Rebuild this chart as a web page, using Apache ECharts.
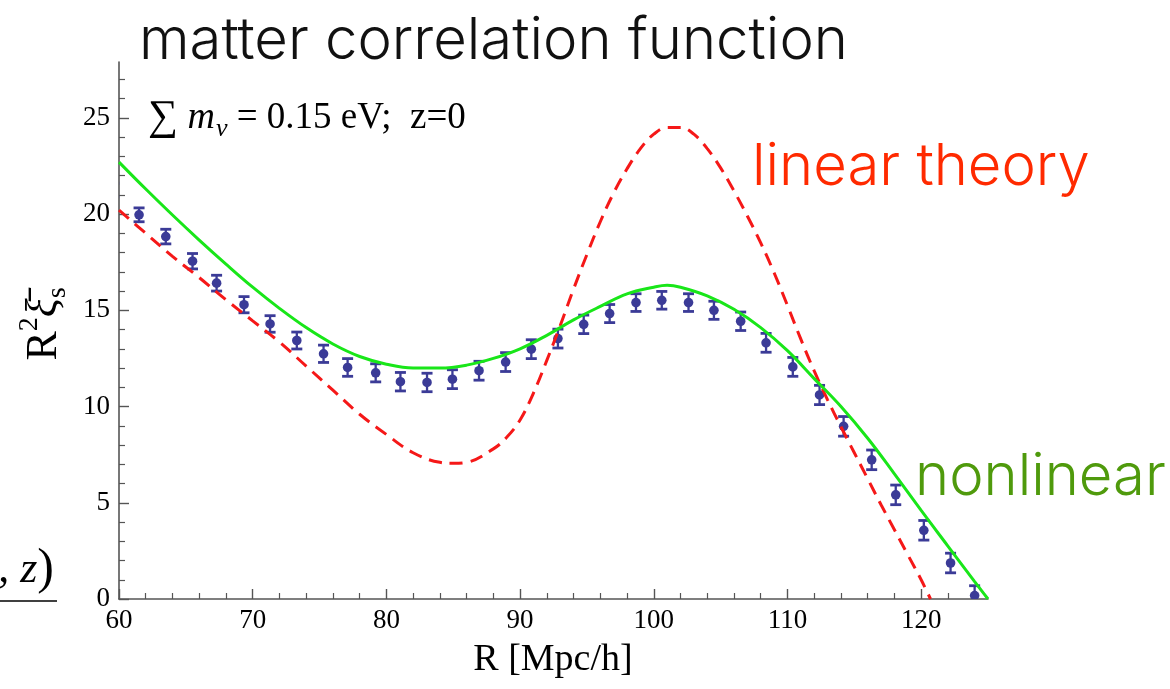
<!DOCTYPE html>
<html>
<head>
<meta charset="utf-8">
<script src="https://cdn.jsdelivr.net/npm/echarts@6/dist/echarts.min.js"></script>
<style>
  html, body { margin: 0; padding: 0; background: #fff; }
  #main { width: 1170px; height: 689px; }
</style>
</head>
<body>
<div id="main"></div>
<script>
// simulation points: R, R^2 xi, error
var simR = [59.6, 61.5, 63.5, 65.5, 67.3, 69.35, 71.3, 73.3, 75.3, 77.1, 79.2, 81.05, 83.04, 84.94, 86.93, 88.92,
  90.84, 92.83, 94.76, 96.7, 98.67, 100.6, 102.6, 104.5, 106.5, 108.4, 110.4, 112.4, 114.2, 116.3, 118.1, 120.2, 122.2, 124.0]
var simXi = [21.25, 19.96, 18.83, 17.55, 16.41, 15.29, 14.29, 13.43, 12.74, 12.03, 11.75, 11.29, 11.25, 11.42, 11.86, 12.31,
  12.98, 13.53, 14.27, 14.83, 15.4, 15.52, 15.4, 15.0, 14.43, 13.31, 12.06, 10.6, 8.97, 7.23, 5.41, 3.57, 1.87, 0.18]
var simErr = [0.35, 0.36, 0.38, 0.4, 0.41, 0.42, 0.43, 0.44, 0.45, 0.46, 0.47, 0.48, 0.48, 0.49, 0.49, 0.49,
  0.49, 0.49, 0.48, 0.47, 0.46, 0.46, 0.46, 0.47, 0.48, 0.49, 0.49, 0.5, 0.51, 0.51, 0.51, 0.51, 0.51, 0.51]

// linear theory (red dashed)
var linearR = [60, 62, 64, 66, 68, 70, 72, 74, 76, 78, 80, 82, 84, 85, 86, 88, 89, 90, 91, 92, 93, 94, 95, 96, 97, 98, 99,
  100, 101, 102, 103, 104, 105, 106, 107, 108, 109, 110, 111, 112, 113, 114, 115, 116, 117, 118, 119, 120, 120.7]
var linearXi = [20.2, 19.0, 17.8, 16.7, 15.55, 14.45, 13.35, 12.1, 10.85, 9.6, 8.55, 7.6, 7.1, 7.05, 7.1, 7.8, 8.4, 9.3, 10.7,
  12.4, 14.2, 16.1, 17.9, 19.6, 21.1, 22.35, 23.4, 24.15, 24.5, 24.5, 24.15, 23.4, 22.4, 21.2, 19.9, 18.5, 16.95, 15.25,
  13.5, 11.85, 10.35, 8.95, 7.6, 6.25, 4.9, 3.6, 2.3, 1.0, 0]

// nonlinear (green)
var nonlinearR = [60, 62, 64, 66, 68, 70, 72, 74, 76, 78, 80, 82, 84, 86, 88, 90, 92, 94, 96, 98, 100, 101, 102, 104, 106,
  108, 110, 112, 114, 116, 118, 120, 122, 124, 125]
var nonlinearXi = [22.7, 21.3, 19.95, 18.65, 17.4, 16.2, 15.1, 14.1, 13.25, 12.6, 12.2, 12.0, 12.0, 12.15, 12.5, 13.0, 13.7,
  14.5, 15.2, 15.85, 16.2, 16.3, 16.2, 15.75, 15.05, 14.1, 12.9, 11.45, 10.0, 8.35, 6.5, 4.6, 2.75, 0.9, 0]

// ticks
var xMajorTicks = [60, 70, 80, 90, 100, 110, 120]
var xMinorTicks = [62, 64, 66, 68, 72, 74, 76, 78, 82, 84, 86, 88, 92, 94, 96, 98, 102, 104, 106, 108, 112, 114, 116, 118, 122, 124]
var yMajorTicks = [0, 5, 10, 15, 20, 25]
var yMinorTicks = [1, 2, 3, 4, 6, 7, 8, 9, 11, 12, 13, 14, 16, 17, 18, 19, 21, 22, 23, 24, 26, 27]

var pointColor = '#3b3b97'
var axisColor = '#555'
var serif = '"Liberation Serif", "DejaVu Serif", serif'
var sans = 'Inter, Roboto, "Helvetica Neue", sans-serif'

function pairs (xs, ys) {
  return xs.map(function (x, i) { return [x, ys[i]] })
}

var myChart = echarts.init(document.getElementById('main'))

var option = {
  animation: false,
  backgroundColor: '#fff',
  grid: { left: 119, right: 182, top: 62, bottom: 90 },
  xAxis: [
    {
      type: 'value', min: 60, max: 125, interval: 10, position: 'bottom',
      splitLine: { show: false },
      axisLine: { lineStyle: { color: axisColor, width: 1.6 } },
      axisTick: { inside: true, length: 10, customValues: xMajorTicks, lineStyle: { color: axisColor, width: 1.4 } },
      axisLabel: { customValues: xMajorTicks, margin: 8, color: '#000', fontFamily: serif, fontSize: 27 }
    },
    {
      type: 'value', min: 60, max: 125, interval: 10, position: 'bottom', offset: 0,
      splitLine: { show: false },
      axisLine: { show: false },
      axisTick: { inside: true, length: 6, customValues: xMinorTicks, lineStyle: { color: axisColor, width: 1.2 } },
      axisLabel: { show: false }
    }
  ],
  yAxis: [
    {
      type: 'value', min: 0, max: 27.9, interval: 5, position: 'left',
      splitLine: { show: false },
      axisLine: { lineStyle: { color: axisColor, width: 1.6 } },
      axisTick: { inside: true, length: 10, customValues: yMajorTicks, lineStyle: { color: axisColor, width: 1.4 } },
      axisLabel: { customValues: yMajorTicks, margin: 9, color: '#000', fontFamily: serif, fontSize: 27 }
    },
    {
      type: 'value', min: 0, max: 27.9, interval: 5, position: 'left', offset: 0,
      splitLine: { show: false },
      axisLine: { show: false },
      axisTick: { inside: true, length: 6, customValues: yMinorTicks, lineStyle: { color: axisColor, width: 1.2 } },
      axisLabel: { show: false }
    }
  ],
  series: [
    {
      name: 'simulation',
      type: 'custom',
      clip: true,
      z: 2,
      data: simR.map(function (r, i) { return [r, simXi[i], simErr[i]] }),
      encode: { x: 0, y: 1 },
      renderItem: function (params, api) {
        var x = api.value(0)
        var y = api.value(1)
        var e = api.value(2)
        var c = api.coord([x, y])
        var hi = api.coord([x, y + e])
        var lo = api.coord([x, y - e])
        var cap = 5.5
        var st = { stroke: pointColor, lineWidth: 2.3 }
        var capSt = { stroke: pointColor, lineWidth: 2.8 }
        return {
          type: 'group',
          children: [
            { type: 'line', shape: { x1: c[0], y1: hi[1], x2: c[0], y2: lo[1] }, style: st },
            { type: 'line', shape: { x1: c[0] - cap, y1: hi[1], x2: c[0] + cap, y2: hi[1] }, style: capSt },
            { type: 'line', shape: { x1: c[0] - cap, y1: lo[1], x2: c[0] + cap, y2: lo[1] }, style: capSt },
            { type: 'circle', shape: { cx: c[0], cy: c[1], r: 4.8 }, style: { fill: pointColor } }
          ]
        }
      }
    },
    {
      name: 'linear theory',
      type: 'line',
      z: 3,
      smooth: 0.4,
      showSymbol: false,
      data: pairs(linearR, linearXi),
      lineStyle: { color: '#f51818', width: 3, type: [13, 8] }
    },
    {
      name: 'nonlinear',
      type: 'line',
      z: 4,
      smooth: 0.4,
      showSymbol: false,
      data: pairs(nonlinearR, nonlinearXi),
      lineStyle: { color: '#19e619', width: 3 }
    }
  ],
  graphic: [
    {
      type: 'text', x: 139, y: 42,
      style: { text: 'matter correlation function', fill: '#111', font: '300 58px ' + sans, verticalAlign: 'middle' }
    },
    {
      type: 'text', x: 752, y: 168,
      style: { text: 'linear theory', fill: '#ff2a00', font: '300 58px ' + sans, verticalAlign: 'middle' }
    },
    {
      type: 'text', x: 915, y: 478,
      style: { text: 'nonlinear', fill: '#4f9a0c', font: '300 58px ' + sans, verticalAlign: 'middle' }
    },
    {
      type: 'text', x: 148, y: 118,
      style: {
        text: '{s|∑}{m| m}{nu|ν}{t| = 0.15 eV;  z=0}',
        verticalAlign: 'middle',
        fill: '#000',
        rich: {
          s: { fontFamily: serif, fontSize: 42, lineHeight: 48, verticalAlign: 'middle' },
          m: { fontFamily: serif, fontStyle: 'italic', fontSize: 38, lineHeight: 48, verticalAlign: 'middle' },
          nu: { fontFamily: serif, fontStyle: 'italic', fontSize: 26, lineHeight: 48, verticalAlign: 'bottom', padding: [0, 0, 0, 1] },
          t: { fontFamily: serif, fontSize: 37, lineHeight: 48, verticalAlign: 'middle' }
        }
      }
    },
    {
      type: 'text', x: 553, y: 660,
      style: { text: 'R [Mpc/h]', fill: '#000', font: '38px ' + serif, align: 'center', verticalAlign: 'middle' }
    },
    {
      type: 'text', x: 44, y: 324, rotation: Math.PI / 2,
      style: {
        text: '{r|R}{sup|2}{xi|ξ̄}{sub|s}',
        align: 'center',
        verticalAlign: 'middle',
        fill: '#000',
        rich: {
          r: { fontFamily: serif, fontSize: 44, lineHeight: 56, verticalAlign: 'middle' },
          sup: { fontFamily: serif, fontSize: 28, lineHeight: 56, verticalAlign: 'top' },
          xi: { fontFamily: serif, fontStyle: 'italic', fontSize: 44, lineHeight: 56, verticalAlign: 'middle' },
          sub: { fontFamily: serif, fontSize: 28, lineHeight: 56, verticalAlign: 'bottom' }
        }
      }
    },
    {
      type: 'text', x: 54, y: 570,
      style: {
        text: '{c|,}{z| z}{p|)}',
        align: 'right',
        verticalAlign: 'middle',
        fill: '#000',
        rich: {
          c: { fontFamily: serif, fontSize: 44, lineHeight: 56 },
          z: { fontFamily: serif, fontStyle: 'italic', fontSize: 44, lineHeight: 56 },
          p: { fontFamily: serif, fontSize: 50, lineHeight: 56 }
        }
      }
    },
    {
      type: 'line', shape: { x1: 0, y1: 601, x2: 57, y2: 601 },
      style: { stroke: '#000', lineWidth: 1.6 }
    }
  ]
}

myChart.setOption(option)
</script>
</body>
</html>
